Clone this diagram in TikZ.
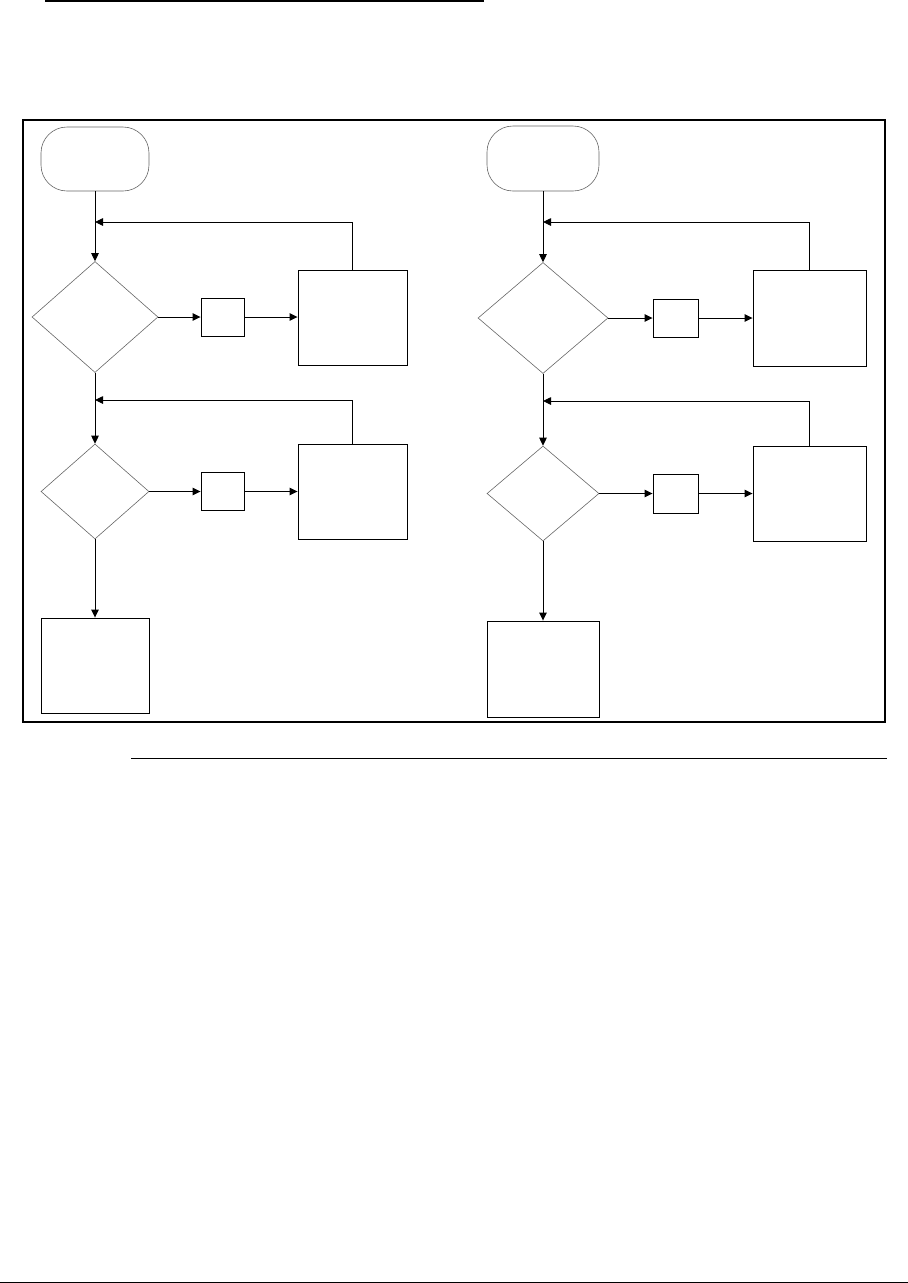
\documentclass[tikz,border=0pt]{standalone}
\usetikzlibrary{arrows.meta, shapes.geometric, positioning}

\begin{document}
\begin{tikzpicture}[x=1pt, y=-1pt,
      term/.style={draw=black!60, line width=0.6pt, rounded corners=26pt,
          inner sep=0pt},
      dec/.style={diamond, draw=black!60, line width=0.6pt, inner sep=0pt},
      box/.style={draw, line width=0.9pt, inner sep=0pt},
      arr/.style={-{Triangle[length=8pt, width=7.5pt]}, line width=0.9pt},
      frame/.style={line width=2.5pt}
    ]
    \useasboundingbox (0,0) rectangle (908,1283);
    % rules and outer frame
    \draw[line width=2pt] (45,1) -- (484,1);
    \draw[frame] (23,120) rectangle (885,722);
    \draw[line width=0.9pt] (131,758) -- (887,758);
    \draw[line width=1pt] (0,1282.5) -- (908,1282.5);

    % left flowchart
    \node[term, minimum width=108pt, minimum height=64pt] (tl)  at (95,159)    {};
    \node[dec,  minimum width=126pt, minimum height=111pt](dl1) at (95,317)    {};
    \node[box,  minimum width=43pt,  minimum height=38pt] (sl1) at (222.5,317) {};
    \node[box,  minimum width=109pt, minimum height=95pt] (bl1) at (352.5,317.5) {};
    \node[dec,  minimum width=108pt, minimum height=95pt] (dl2) at (95,491.5)  {};
    \node[box,  minimum width=43pt,  minimum height=38pt] (sl2) at (222.5,491.5) {};
    \node[box,  minimum width=109pt, minimum height=95pt] (bl2) at (352.5,491.5) {};
    \node[box,  minimum width=108pt, minimum height=95pt] (el)  at (95,665.5)  {};
    \coordinate (jl1) at (95,222);
    \coordinate (jl2) at (95,400);

    \draw[arr] (tl.south)  -- (dl1.north);
    \draw[arr] (bl1.north) |- (jl1);
    \draw[arr] (dl1.east)  -- (sl1.west);
    \draw[arr] (sl1.east)  -- (sl1.east -| bl1.west);
    \draw[arr] (dl1.south) -- (dl2.north);
    \draw[arr] (bl2.north) |- (jl2);
    \draw[arr] (dl2.east)  -- (sl2.west);
    \draw[arr] (sl2.east)  -- (bl2.west);
    \draw[arr] (dl2.south) -- (el.north);

    % right flowchart
    \node[term, minimum width=112pt, minimum height=65pt] (tr)  at (543,158.5) {};
    \node[dec,  minimum width=130pt, minimum height=111pt](dr1) at (543,318)   {};
    \node[box,  minimum width=45pt,  minimum height=38pt] (sr1) at (675.5,318) {};
    \node[box,  minimum width=113pt, minimum height=96pt] (br1) at (809.5,318) {};
    \node[dec,  minimum width=112pt, minimum height=95pt] (dr2) at (543,493.5) {};
    \node[box,  minimum width=45pt,  minimum height=39pt] (sr2) at (675.5,493.5) {};
    \node[box,  minimum width=113pt, minimum height=95pt] (br2) at (809.5,493.5) {};
    \node[box,  minimum width=112pt, minimum height=96pt] (er)  at (543,669)   {};
    \coordinate (jr1) at (543,222);
    \coordinate (jr2) at (543,401);

    \draw[arr] (tr.south)  -- (dr1.north);
    \draw[arr] (br1.north) |- (jr1);
    \draw[arr] (dr1.east)  -- (sr1.west);
    \draw[arr] (sr1.east)  -- (br1.west);
    \draw[arr] (dr1.south) -- (dr2.north);
    \draw[arr] (br2.north) |- (jr2);
    \draw[arr] (dr2.east)  -- (sr2.west);
    \draw[arr] (sr2.east)  -- (br2.west);
    \draw[arr] (dr2.south) -- (er.north);
  \end{tikzpicture}
\end{document}
